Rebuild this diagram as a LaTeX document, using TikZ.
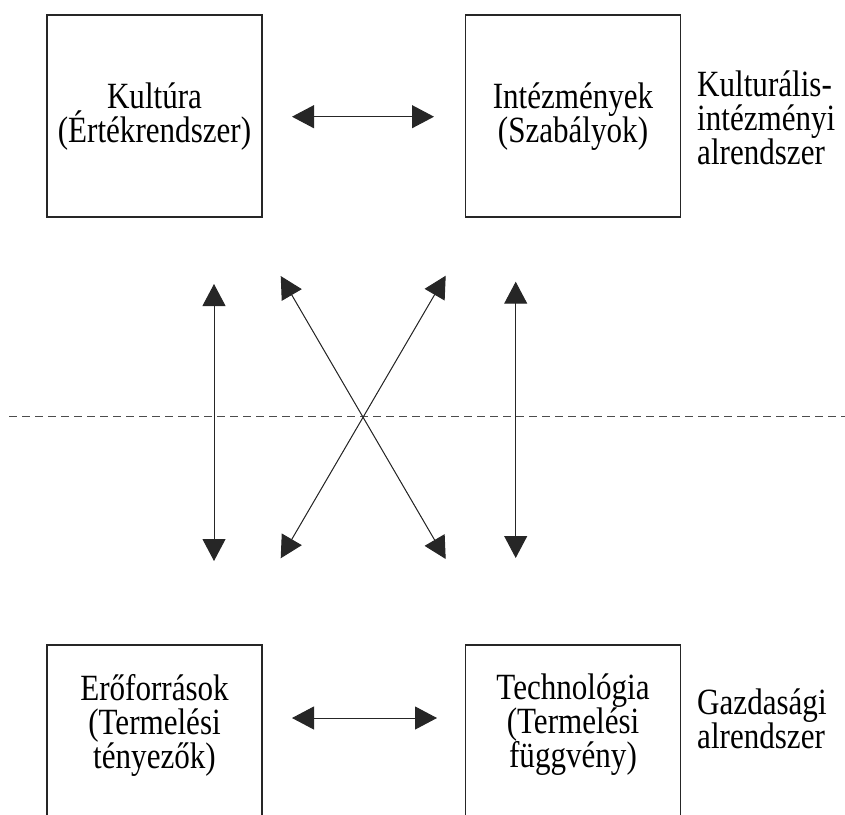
\documentclass[tikz,border=0pt]{standalone}
\usepackage{fontspec}
\setmainfont[FakeStretch=0.84]{Liberation Serif}
\usetikzlibrary{arrows.meta}
\begin{document}
\begin{tikzpicture}[x=1pt,y=-1pt,
  box/.style={draw=black!85, line width=1.2pt, minimum width=215pt, minimum height=202pt, inner sep=0pt},
  lbl/.style={font=\fontsize{37}{34}\selectfont, align=center, inner sep=0pt},
  side/.style={font=\fontsize{37}{34}\selectfont, align=left, anchor=west, inner sep=0pt},
  conn/.style={line width=1pt, draw=black!85, fill=black!90, {Triangle[length=22pt,width=23pt]}-{Triangle[length=22pt,width=23pt]}},
  sep/.style={line width=1pt, draw=black!70, dash pattern=on 8pt off 5pt}
  ]
\useasboundingbox (0,0) rectangle (845,814);
\clip (0,0) rectangle (845,814);
% boxes
\node[box] (kbox) at (154.5,116) {};
\node[box] (ibox) at (573,116) {};
\node[box] (ebox) at (154.5,746) {};
\node[box] (tbox) at (573,746) {};
% texts
\node[lbl] (ktxt) at (154.5,117) {Kultúra\\(Értékrendszer)};
\node[lbl] (itxt) at (573,117) {Intézmények\\(Szabályok)};
\node[lbl] (etxt) at (154.5,725) {Erőforrások\\(Termelési\\tényezők)};
\node[lbl] (ttxt) at (573,725) {Technológia\\(Termelési\\függvény)};
\node[side] (kside) at (697,118) {Kulturális-\\intézményi\\alrendszer};
\node[side] (gside) at (697,719) {Gazdasági\\alrendszer};
% connector end points
\coordinate (h1a) at (292,116.7);
\coordinate (h1b) at (434,116.7);
\coordinate (h2a) at (292,718);
\coordinate (h2b) at (437,718);
\coordinate (vla) at (214,284);
\coordinate (vlb) at (214,561);
\coordinate (vra) at (515.7,281.7);
\coordinate (vrb) at (515.7,558);
\coordinate (d1a) at (280.7,276);
\coordinate (d1b) at (445.7,559);
\coordinate (d2a) at (445.7,275.7);
\coordinate (d2b) at (280.7,558.3);
\coordinate (sl) at (9,416);
\coordinate (sr) at (845,416);
% dashed separator
\draw[sep] (sl) -- (sr);
% connectors
\draw[conn] (h1a) -- (h1b);
\draw[conn] (h2a) -- (h2b);
\draw[conn] (vla) -- (vlb);
\draw[conn] (vra) -- (vrb);
\draw[conn] (d1a) -- (d1b);
\draw[conn] (d2a) -- (d2b);
\end{tikzpicture}
\end{document}
